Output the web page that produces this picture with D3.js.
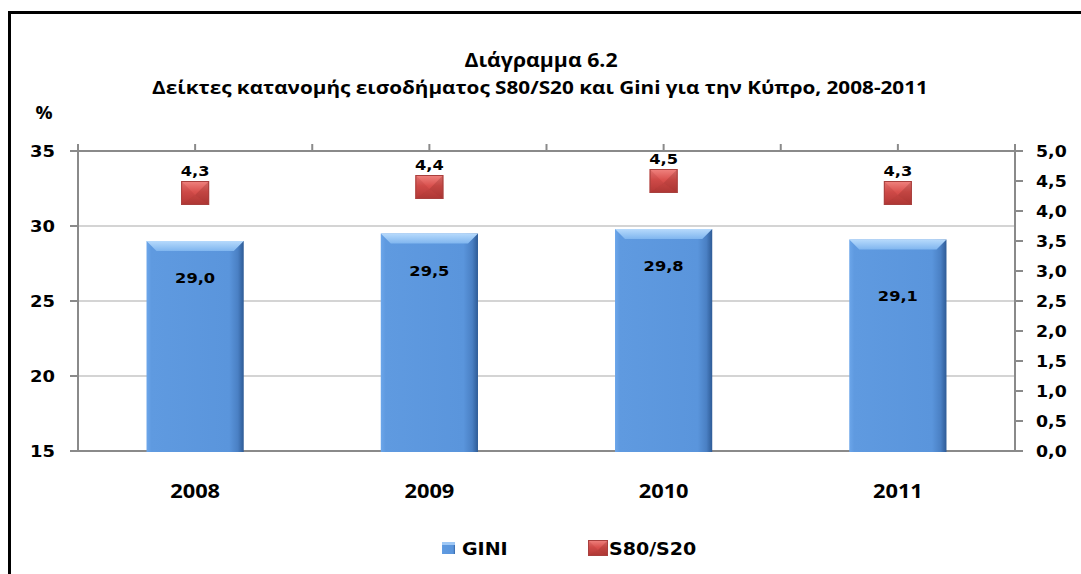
<!DOCTYPE html>
<html>
<head>
<meta charset="utf-8">
<script src="https://cdn.jsdelivr.net/npm/d3@7"></script>
<style>
	body { margin: 0; background: #fff; }
	svg { display: block; }
</style>
</head>
<body>
<svg id="chart" width="1081" height="574"></svg>
<script>
// chart data
var years = ["2008", "2009", "2010", "2011"];
var gini = [29.0, 29.5, 29.8, 29.1];
var s80s20 = [4.3, 4.4, 4.5, 4.3];
var leftTicks = [15, 20, 25, 30, 35];
var rightTicks = [0, 0.5, 1, 1.5, 2, 2.5, 3, 3.5, 4, 4.5, 5];
var titleLines = ["Διάγραμμα 6.2", "Δείκτες κατανομής  εισοδήματος S80/S20 και Gini για την Κύπρο, 2008-2011"];
var seriesNames = ["GINI", "S80/S20"];

var svg = d3.select("#chart");
var defs = svg.append("defs");

// the original is slightly stretched horizontally, text follows that
var sx = 1.12;
var fmt = function(v) { return d3.format(".1f")(v).replace(".", ","); };

var plot = {left: 78, right: 1015, top: 151, bottom: 451};

var x = d3.scaleBand()
	.domain(years)
	.range([plot.left, plot.right])
	.paddingInner(0.585)
	.paddingOuter(0.2925);

var yLeft = d3.scaleLinear().domain([15, 35]).range([plot.bottom, plot.top]);
var yRight = d3.scaleLinear().domain([0, 5]).range([plot.bottom, plot.top]);

var text = function(parent, px, py, str, font, size, anchor) {
	return parent.append("text")
		.attr("transform", "translate(" + px + "," + py + ") scale(" + sx + ",1)")
		.attr("text-anchor", anchor || "middle")
		.style("font-family", font)
		.style("font-weight", "bold")
		.style("font-size", size + "px")
		.attr("fill", "#000")
		.text(str);
};

// gradients
var barGrad = defs.append("linearGradient").attr("id", "barGrad").attr("x1", 0).attr("x2", 1).attr("y1", 0).attr("y2", 0);
[[0, "#6ca6ea"], [0.05, "#5f9ae0"], [0.85, "#5a95dc"], [0.94, "#4a80c4"], [1, "#2e5b96"]].forEach(function(s) {
	barGrad.append("stop").attr("offset", s[0]).attr("stop-color", s[1]);
});
var bevelGrad = defs.append("linearGradient").attr("id", "bevelGrad").attr("x1", 0).attr("x2", 0).attr("y1", 0).attr("y2", 1);
[[0, "#b7dafc"], [1, "#80b6ef"]].forEach(function(s) {
	bevelGrad.append("stop").attr("offset", s[0]).attr("stop-color", s[1]);
});
var redGrad = defs.append("linearGradient").attr("id", "redGrad").attr("x1", 0).attr("x2", 0).attr("y1", 0).attr("y2", 1);
[[0, "#f08480"], [0.45, "#d9514e"], [1, "#b63a38"]].forEach(function(s) {
	redGrad.append("stop").attr("offset", s[0]).attr("stop-color", s[1]);
});

// frame
svg.append("path")
	.attr("d", "M9.5,574 L9.5,12.5 L1081,12.5")
	.attr("fill", "none")
	.attr("stroke", "#000")
	.attr("stroke-width", 3);

// titles
text(svg, 541, 67, titleLines[0], "Open Sans", 19);
text(svg, 540, 94, titleLines[1], "Open Sans", 18.5);
text(svg, 44, 119, "%", "Open Sans", 17);

// gridlines
svg.append("g").selectAll("line")
	.data(leftTicks.slice(1, -1))
	.enter().append("line")
	.attr("x1", plot.left).attr("x2", plot.right)
	.attr("y1", function(d) { return yLeft(d); })
	.attr("y2", function(d) { return yLeft(d); })
	.attr("stroke", "#c6c6c6")
	.attr("stroke-width", 1.5);

// axes
var axisColor = "#8a8a8a";
var axes = svg.append("g").attr("stroke", axisColor).attr("stroke-width", 2);
axes.append("line").attr("x1", plot.left).attr("x2", plot.right).attr("y1", plot.top).attr("y2", plot.top);
axes.append("line").attr("x1", plot.left - 8).attr("x2", plot.right).attr("y1", plot.bottom).attr("y2", plot.bottom);
axes.append("line").attr("x1", plot.left).attr("x2", plot.left).attr("y1", plot.top - 7).attr("y2", plot.bottom);
axes.append("line").attr("x1", plot.right).attr("x2", plot.right).attr("y1", plot.top - 7).attr("y2", plot.bottom);

// left ticks
axes.selectAll(".lt").data(leftTicks).enter().append("line")
	.attr("x1", plot.left - 8).attr("x2", plot.left)
	.attr("y1", function(d) { return yLeft(d); })
	.attr("y2", function(d) { return yLeft(d); });
// right ticks
axes.selectAll(".rt").data(rightTicks).enter().append("line")
	.attr("x1", plot.right).attr("x2", plot.right + 8)
	.attr("y1", function(d) { return yRight(d); })
	.attr("y2", function(d) { return yRight(d); });
// top category ticks, at each centre and boundary
var topTicks = [];
years.forEach(function(y, i) {
	topTicks.push(x(y) + x.bandwidth() / 2);
	if (i > 0) topTicks.push(x(y) - x.step() * x.paddingInner() / 2);
});
axes.selectAll(".tt").data(topTicks).enter().append("line")
	.attr("x1", function(d) { return d; }).attr("x2", function(d) { return d; })
	.attr("y1", plot.top - 7).attr("y2", plot.top);

// tick labels
leftTicks.forEach(function(t) {
	text(svg, 55, yLeft(t) + 6, t, "DejaVu Sans", 16, "end");
});
rightTicks.forEach(function(t) {
	text(svg, 1036, yRight(t) + 6, fmt(t), "DejaVu Sans", 15.5, "start");
});
years.forEach(function(y) {
	text(svg, x(y) + x.bandwidth() / 2, 498, y, "Open Sans", 19.5);
});

// bars
var bars = svg.append("g").selectAll("g")
	.data(years.map(function(y, i) { return {year: y, value: gini[i]}; }))
	.enter().append("g");

bars.append("rect")
	.attr("x", function(d) { return x(d.year); })
	.attr("y", function(d) { return yLeft(d.value); })
	.attr("width", x.bandwidth())
	.attr("height", function(d) { return yLeft(15) - yLeft(d.value) + 1; })
	.attr("fill", "url(#barGrad)");

bars.append("path")
	.attr("d", function(d) {
		var x0 = x(d.year), x1 = x0 + x.bandwidth(), t = yLeft(d.value), b = 10;
		return "M" + x0 + "," + t + "L" + x1 + "," + t + "L" + (x1 - b) + "," + (t + b) + "L" + (x0 + b) + "," + (t + b) + "Z";
	})
	.attr("fill", "url(#bevelGrad)");

bars.each(function(d) {
	// the 2011 label sits lower in the original
	var dy = d.year === "2011" ? 61 : 42;
	text(d3.select(this), x(d.year) + x.bandwidth() / 2, yLeft(d.value) + dy, fmt(d.value), "DejaVu Sans", 14.5);
});

// S80/S20 markers, office-style bevelled square
var marker = function(parent, cx, cy, w, h) {
	var g = parent.append("g").attr("transform", "translate(" + cx + "," + cy + ")");
	var hw = w / 2, hh = h / 2;
	g.append("rect").attr("x", -hw).attr("y", -hh).attr("width", w).attr("height", h)
		.attr("fill", "url(#redGrad)");
	var tri = function(pts, fill, op) {
		g.append("path").attr("d", "M" + pts.join("L") + "Z").attr("fill", fill).attr("fill-opacity", op);
	};
	tri([[-hw, -hh], [0, 2], [-hw, hh]], "#9e2e2c", 0.18);
	tri([[hw, -hh], [0, 2], [hw, hh]], "#7e2220", 0.25);
	tri([[-hw, hh], [0, 2], [hw, hh]], "#8a2624", 0.2);
	g.append("rect").attr("x", -hw + 0.5).attr("y", -hh + 0.5).attr("width", w - 1).attr("height", h - 1)
		.attr("fill", "none").attr("stroke", "#a8403e").attr("stroke-width", 1);
	return g;
};

var markers = svg.append("g");
years.forEach(function(y, i) {
	var cx = x(y) + x.bandwidth() / 2;
	marker(markers, cx, yRight(s80s20[i]), 28, 24);
	text(markers, cx, yRight(s80s20[i]) - 17, fmt(s80s20[i]), "DejaVu Sans", 14.5);
});

// legend
var legend = svg.append("g");
legend.append("rect").attr("x", 442).attr("y", 542).attr("width", 13).attr("height", 12).attr("fill", "url(#barGrad)");
legend.append("rect").attr("x", 442).attr("y", 542).attr("width", 13).attr("height", 3).attr("fill", "#9fc8f5");
text(legend, 462, 555, seriesNames[0], "DejaVu Sans", 17, "start");
marker(legend, 598, 548, 20, 16);
text(legend, 609, 555, seriesNames[1], "DejaVu Sans", 17, "start");
</script>
</body>
</html>
